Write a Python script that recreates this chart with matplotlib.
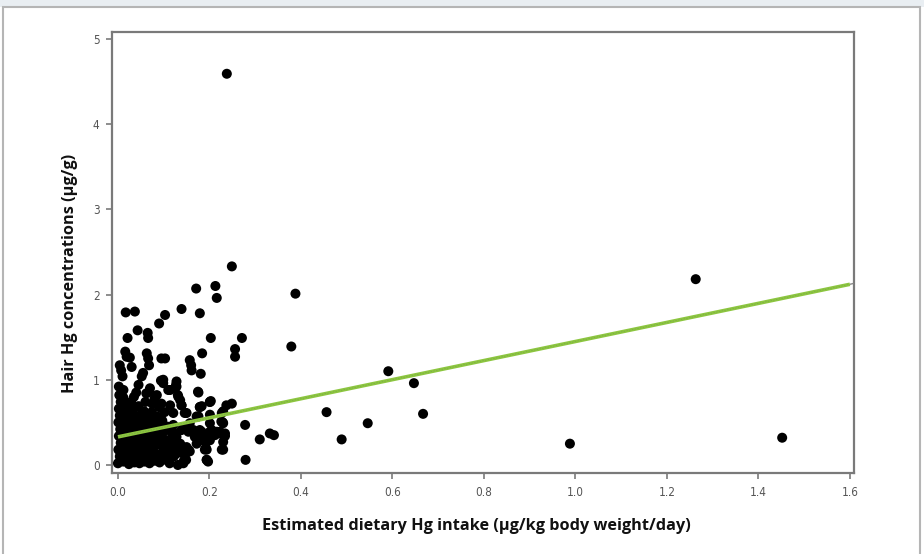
import numpy as np
import matplotlib
matplotlib.use('Agg')
import matplotlib.pyplot as plt
from matplotlib import font_manager
from matplotlib.patches import Rectangle

# 산점도 데이터
# 흩어진 점들
sparse_x = [0.238, 0.249, 0.213, 0.216, 0.171, 0.388, 0.379, 0.271, 0.256, 0.256,
            0.203, 0.179, 0.139, 0.103, 0.090, 0.017, 0.037, 0.043, 0.065, 0.066,
            0.021, 0.016, 0.019, 0.026, 0.004, 0.007, 0.010, 0.030, 0.063, 0.066,
            0.068, 0.055, 0.052, 0.095, 0.103, 0.099, 0.094, 0.157, 0.160, 0.161,
            0.184, 0.181, 0.002, 0.045, 0.070, 0.068, 0.110, 0.125, 0.128, 0.132,
            0.136, 0.175, 0.203, 0.249, 0.456, 0.489, 0.546, 0.591, 0.647, 0.667,
            0.988, 1.263, 1.452, 0.310, 0.332, 0.341, 0.278, 0.279, 0.230, 0.230,
            0.234, 0.230, 0.194, 0.197, 0.192, 0.143, 0.139, 0.150, 0.176, 0.201,
            0.183, 0.226, 0.121, 0.143, 0.165, 0.183, 0.205, 0.212, 0.106, 0.128,
            0.168, 0.187, 0.150, 0.120, 0.130, 0.194, 0.099, 0.131, 0.127, 0.114,
            0.201, 0.229, 0.216, 0.223, 0.234, 0.179, 0.186, 0.201, 0.157, 0.154,
            0.136, 0.154, 0.117, 0.106, 0.103, 0.110, 0.090, 0.114, 0.121, 0.095]
sparse_y = [4.59, 2.33, 2.10, 1.96, 2.07, 2.01, 1.39, 1.49, 1.36, 1.27,
            1.49, 1.78, 1.83, 1.76, 1.66, 1.79, 1.80, 1.58, 1.55, 1.49,
            1.49, 1.33, 1.27, 1.26, 1.17, 1.11, 1.04, 1.15, 1.31, 1.25,
            1.17, 1.08, 1.04, 1.25, 1.25, 1.00, 0.99, 1.23, 1.17, 1.11,
            1.31, 1.07, 0.92, 0.94, 0.90, 0.86, 0.88, 0.90, 0.92, 0.80,
            0.76, 0.86, 0.75, 0.72, 0.62, 0.30, 0.49, 1.10, 0.96, 0.60,
            0.25, 2.18, 0.32, 0.30, 0.37, 0.35, 0.47, 0.06, 0.63, 0.49,
            0.34, 0.18, 0.06, 0.04, 0.20, 0.02, 0.70, 0.61, 0.57, 0.59,
            0.69, 0.51, 0.47, 0.43, 0.41, 0.39, 0.41, 0.35, 0.29, 0.33,
            0.33, 0.29, 0.16, 0.17, 0.14, 0.18, 0.07, 0.82, 0.94, 0.88,
            0.74, 0.50, 0.39, 0.37, 0.37, 0.68, 0.35, 0.29, 0.49, 0.39,
            0.25, 0.18, 0.18, 0.18, 0.21, 0.12, 0.08, 0.70, 0.61, 0.72]

# 0.1 근처 점들 (추가로 읽은 것)
mid_x = [0.099, 0.128, 0.176, 0.139, 0.179, 0.201, 0.237, 0.146, 0.172, 0.227,
         0.201, 0.179, 0.157, 0.139, 0.117, 0.201, 0.223, 0.230, 0.186, 0.172,
         0.150, 0.125, 0.106, 0.139, 0.157, 0.190, 0.227, 0.143, 0.194, 0.099,
         0.081, 0.102, 0.124, 0.113, 0.106, 0.124, 0.142, 0.095, 0.113, 0.131,
         0.149, 0.100, 0.105, 0.110, 0.116, 0.122, 0.133, 0.146, 0.154, 0.098,
         0.108, 0.118, 0.102, 0.090, 0.080, 0.012, 0.040, 0.062, 0.085, 0.075]
mid_y = [0.96, 0.98, 0.85, 0.70, 0.68, 0.74, 0.70, 0.61, 0.57, 0.61,
         0.49, 0.41, 0.43, 0.41, 0.43, 0.39, 0.39, 0.27, 0.29, 0.25,
         0.21, 0.20, 0.18, 0.16, 0.16, 0.18, 0.18, 0.04, 0.06, 0.12,
         0.06, 0.41, 0.37, 0.25, 0.16, 0.12, 0.14, 0.06, 0.02, 0.00,
         0.06, 0.20, 0.06, 0.18, 0.26, 0.10, 0.24, 0.11, 0.16, 0.38,
         0.45, 0.37, 0.62, 0.68, 0.78, 0.88, 0.85, 0.84, 0.82, 0.72]

# 0 근처에 몰려있는 점들
blob_x = [0.000, 0.004, 0.001, 0.006, 0.002, 0.005, 0.001, 0.004, 0.002, 0.006, 0.003,
          0.012, 0.015, 0.011, 0.016, 0.013, 0.017, 0.012, 0.015, 0.018, 0.012,
          0.024, 0.027, 0.022, 0.026, 0.023, 0.028, 0.024, 0.027, 0.022, 0.029,
          0.036, 0.033, 0.038, 0.035, 0.039, 0.034, 0.037, 0.033, 0.038, 0.035,
          0.047, 0.044, 0.049, 0.045, 0.048, 0.043, 0.046, 0.050, 0.045,
          0.058, 0.055, 0.060, 0.056, 0.059, 0.054, 0.061, 0.057, 0.060,
          0.069, 0.066, 0.071, 0.067, 0.072, 0.068, 0.070, 0.074,
          0.080, 0.078, 0.083, 0.079, 0.084, 0.081, 0.086,
          0.091, 0.093, 0.089, 0.095, 0.092, 0.097,
          0.008, 0.020, 0.030, 0.042, 0.052, 0.064, 0.075, 0.086, 0.008, 0.020,
          0.031, 0.041, 0.052, 0.063, 0.076, 0.088, 0.006, 0.018, 0.030, 0.041,
          0.053, 0.064, 0.075, 0.010, 0.033, 0.056]
blob_y = [0.02, 0.10, 0.18, 0.26, 0.34, 0.42, 0.50, 0.58, 0.66, 0.74, 0.82,
          0.04, 0.13, 0.21, 0.30, 0.38, 0.47, 0.55, 0.63, 0.71, 0.79,
          0.01, 0.09, 0.17, 0.25, 0.33, 0.41, 0.49, 0.57, 0.65, 0.74,
          0.03, 0.12, 0.20, 0.28, 0.36, 0.44, 0.52, 0.60, 0.68, 0.80,
          0.02, 0.10, 0.18, 0.27, 0.35, 0.43, 0.51, 0.59, 0.69,
          0.04, 0.12, 0.21, 0.29, 0.38, 0.46, 0.55, 0.63, 0.74,
          0.02, 0.11, 0.19, 0.28, 0.36, 0.45, 0.53, 0.62,
          0.05, 0.14, 0.23, 0.31, 0.40, 0.49, 0.57,
          0.03, 0.13, 0.25, 0.34, 0.44, 0.52,
          0.06, 0.22, 0.04, 0.23, 0.07, 0.24, 0.09, 0.30, 0.46, 0.37,
          0.48, 0.31, 0.40, 0.33, 0.45, 0.10, 0.14, 0.08, 0.15, 0.16,
          0.17, 0.06, 0.18, 0.54, 0.56, 0.50]

# 회귀선 양 끝점
line_x = [0.0, 1.6]
line_y = [0.33, 2.12]

x_ticks = [0.0, 0.2, 0.4, 0.6, 0.8, 1.0, 1.2, 1.4, 1.6]
x_tick_labels = ['0.0', '0.2', '0.4', '0.6', '0.8', '1.0', '1.2', '1.4', '1.6']
y_ticks = [0, 1, 2, 3, 4, 5]
y_tick_labels = ['0', '1', '2', '3', '4', '5']

#%%
names = [f.name for f in font_manager.fontManager.ttflist]
tick_font = 'Liberation Sans Narrow' if 'Liberation Sans Narrow' in names else 'DejaVu Sans'
label_font = 'Open Sans'

fig = plt.figure(figsize=(9.24, 5.54), dpi=100)
fig.patch.set_facecolor('white')

# 바깥 테두리 (캡처 이미지 프레임)
fig.patches.append(Rectangle((0, 1 - 7/554), 1, 7/554, transform=fig.transFigure,
                             facecolor='#e9eef2', edgecolor='none', zorder=-2))
fig.patches.append(Rectangle((3/924, -0.05), 917/924, 1.05 - 7/554, transform=fig.transFigure,
                             facecolor='white', edgecolor='#b5b5b5', linewidth=1.5, zorder=-1))

ax = fig.add_axes([112/924, 1 - 473/554, 742/924, 441/554])
ax.set_zorder(2)
ax.scatter(sparse_x, sparse_y, s=52, color='black', edgecolors='none', zorder=3)
ax.scatter(mid_x, mid_y, s=52, color='black', edgecolors='none', zorder=3)
ax.scatter(blob_x, blob_y, s=52, color='black', edgecolors='none', zorder=3)

ax.plot(line_x, line_y, color='#8cc63f', linewidth=2.6, solid_capstyle='butt', zorder=4)
ax.plot(line_x, line_y, color='#6f8f55', linewidth=0.5, linestyle=(0, (2, 2)), alpha=0.6, zorder=5)
ax.plot([line_x[1], 1.608], [line_y[1], line_y[1] + 0.01], color='#888888', linewidth=1,
        linestyle='--', zorder=4)

ax.set_xlim(-0.013, 1.609)
ax.set_ylim(-0.094, 5.08)
ax.set_xticks(x_ticks)
ax.set_xticklabels(x_tick_labels)
ax.set_yticks(y_ticks)
ax.set_yticklabels(y_tick_labels)

for sp in ax.spines.values():
    sp.set_color('#7a7a7a')
    sp.set_linewidth(1.6)
ax.tick_params(axis='both', direction='out', length=4, width=1.2, color='#7a7a7a',
               labelcolor='#555555', labelsize=8.5, pad=5)
for lab in ax.get_xticklabels() + ax.get_yticklabels():
    lab.set_family(tick_font)
    lab.set_stretch('condensed')

fig.text(70/924, 1 - 273/554, 'Hair Hg concentrations (\u00b5g/g)', rotation=90,
         ha='center', va='center', fontsize=11.7, fontweight='bold', family=label_font,
         color='#111111', zorder=3)
fig.text(476/924, 1 - 526/554, 'Estimated dietary Hg intake (\u00b5g/kg body weight/day)',
         ha='center', va='center', fontsize=11.7, fontweight='bold', family=label_font,
         color='#111111', zorder=3)

fig.savefig('out.png', dpi=100)
